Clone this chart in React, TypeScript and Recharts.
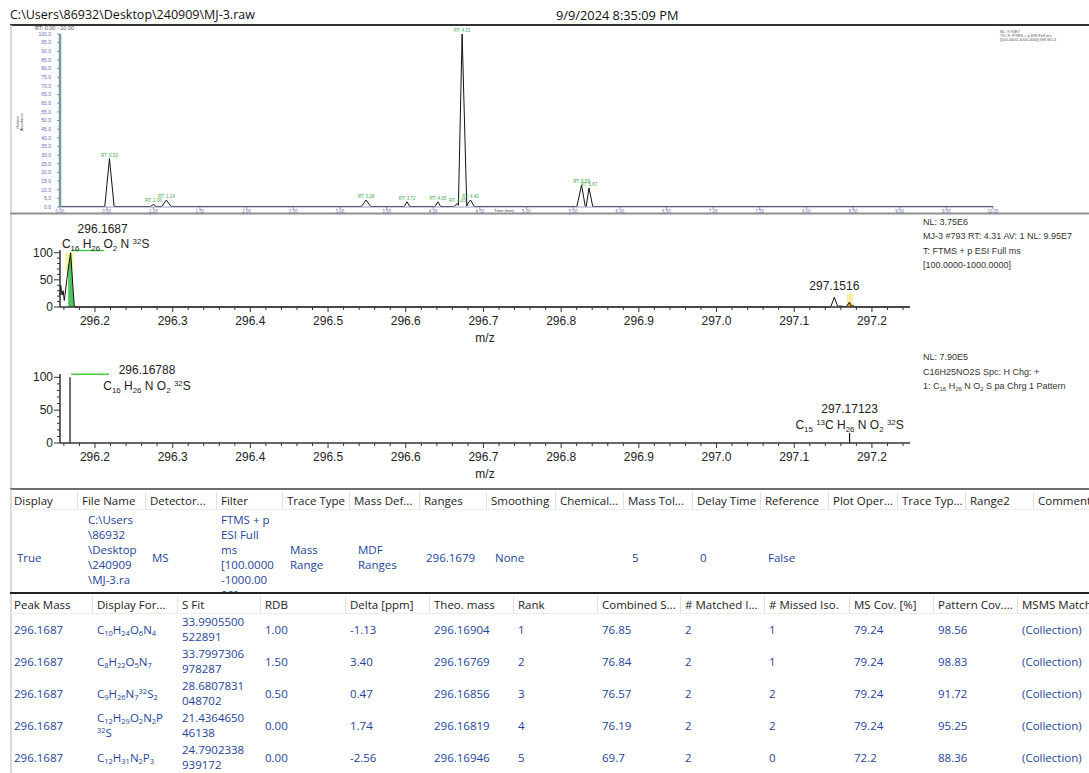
import React from "react";
import {
  Area,
  ComposedChart,
  Line,
  LineChart,
  ReferenceArea,
  Scatter,
  XAxis,
  YAxis,
} from "recharts";

const ARIAL = "'Liberation Sans', Arial, sans-serif";
const UI = "'Open Sans', 'Noto Sans', sans-serif";
const BLUE = "#24449a";
const INK = "#222";

// ---------- TIC chromatogram (top strip) ----------
const TIC_TIME = [0, 0.48, 0.53, 0.58, 0.97, 1.0, 1.03, 1.09, 1.14, 1.19, 3.23, 3.28, 3.33, 3.69, 3.72, 3.75, 4.02, 4.05, 4.08, 4.22, 4.26, 4.27, 4.31, 4.36, 4.37, 4.4, 4.44, 5.54, 5.59, 5.63, 5.64, 5.67, 5.71, 10];
const TIC_REL = [0.3, 0.3, 28, 0.3, 0.3, 1.5, 0.3, 0.3, 4, 0.3, 0.3, 4, 0.3, 0.3, 3, 0.3, 0.3, 3, 0.3, 0.3, 2, 1, 100, 0.5, 2, 4, 0.3, 0.3, 12.7, 0.3, 0.3, 11, 0.3, 0.3];
const TIC_PEAK_RT = [0.53, 1.0, 1.14, 3.28, 3.72, 4.05, 4.26, 4.31, 4.4, 5.59, 5.67];
const TIC_PEAK_REL = [28, 1.5, 4, 4, 3, 3, 2, 100, 4, 12.7, 11];
const TIC_X_TICKS = [0, 0.5, 1, 1.5, 2, 2.5, 3, 3.5, 4, 4.5, 5, 5.5, 6, 6.5, 7, 7.5, 8, 8.5, 9, 9.5, 10];
const TIC_Y_TICKS = [0, 5, 10, 15, 20, 25, 30, 35, 40, 45, 50, 55, 60, 65, 70, 75, 80, 85, 90, 95, 100];
const TIC_INFO = ["NL: 9.95E7", "TIC F: FTMS + p ESI Full ms", "[100.0000-1000.0000]  MS  MJ-3", "MJ-3"];

// ---------- measured spectrum (panel 1) ----------
const P1_MZ = [296.155, 296.156, 296.1575, 296.159, 296.1605, 296.1655, 296.1687, 296.172, 296.1735, 297.147, 297.1516, 297.156, 297.159, 297.163, 297.167, 297.1712, 297.174, 297.176, 297.178, 297.249];
const P1_REL = [22, 40, 22, 30, 12, 70, 100, 30, 0, 0, 18, 1, 2, 1, 0.5, 9, 1, 3, 0, 0];
const P1_INFO = ["NL: 3.75E6", "MJ-3 #793 RT: 4.31 AV: 1 NL: 9.95E7", "T: FTMS + p ESI Full ms", "[100.0000-1000.0000]"];

// ---------- simulated pattern (panel 2) ----------
const P2_MZ = [296.16788, 297.17123];
const P2_REL = [100, 15.2];
const P2_LABEL = ["296.16788", "297.17123"];
const P2_FORMULA = ["C_{16} H_{26} N O_{2} ^{32}S", "C_{15} ^{13}C H_{26} N O_{2} ^{32}S"];
const P2_INFO = ["NL: 7.90E5", "C16H25NO2S Spc: H Chg: +", "1: C_{16} H_{26} N O_{2} S  pa Chrg 1 Pattern"];

const MZ_MAJOR = [296.2, 296.3, 296.4, 296.5, 296.6, 296.7, 296.8, 296.9, 297.0, 297.1, 297.2];
const MZ_DOMAIN = [296.155, 297.249];
const REL_TICKS = [0, 10, 20, 30, 40, 50, 60, 70, 80, 90, 100];

// ---------- tables ----------
const T1_HEAD = ["Display", "File Name", "Detector...", "Filter", "Trace Type", "Mass Def...", "Ranges", "Smoothing", "Chemical...", "Mass Tol...", "Delay Time", "Reference", "Plot Oper...", "Trace Typ...", "Range2", "Comment"];
const T1_COLS = [10, 78, 146, 217, 283, 350, 420, 487, 556, 624, 693, 761, 829, 898, 966, 1034];
const T1_ROW = ["True", "C:\\Users\n\\86932\n\\Desktop\n\\240909\n\\MJ-3.ra\n ", "MS", "FTMS + p\nESI Full\nms\n[100.0000\n-1000.00\n00]", "Mass\nRange", "MDF\nRanges", "296.1679", "None", "", "5", "0", "False", "", "", "", ""];
const T1_PAD = [7, 10, 6, 4, 7, 8, 6, 8, 7, 8, 7, 7, 7, 7, 7, 7];

const T2_HEAD = ["Peak Mass", "Display For...", "S Fit", "RDB", "Delta [ppm]", "Theo. mass", "Rank", "Combined S...", "# Matched I...", "# Missed Iso.", "MS Cov. [%]", "Pattern Cov....", "MSMS Match"];
const T2_COLS = [10, 93, 178, 261, 346, 430, 514, 598, 681, 765, 850, 934, 1018];
const PEAK_MASS = ["296.1687", "296.1687", "296.1687", "296.1687", "296.1687"];
const CAND_FORMULA = ["C_{10}H_{24}O_{6}N_{4}", "C_{8}H_{22}O_{5}N_{7}", "C_{9}H_{26}N_{7}^{32}S_{2}", "C_{12}H_{29}O_{2}N_{2}P\n^{32}S", "C_{12}H_{31}N_{2}P_{3}"];
const S_FIT = ["33.9905500\n522891", "33.7997306\n978287", "28.6807831\n048702", "21.4364650\n46138", "24.7902338\n939172"];
const RDB = ["1.00", "1.50", "0.50", "0.00", "0.00"];
const DELTA_PPM = ["-1.13", "3.40", "0.47", "1.74", "-2.56"];
const THEO_MASS = ["296.16904", "296.16769", "296.16856", "296.16819", "296.16946"];
const RANK = ["1", "2", "3", "4", "5"];
const COMBINED = ["76.85", "76.84", "76.57", "76.19", "69.7"];
const MATCHED = ["2", "2", "2", "2", "2"];
const MISSED = ["1", "1", "2", "2", "0"];
const MS_COV = ["79.24", "79.24", "79.24", "79.24", "72.2"];
const PATTERN_COV = ["98.56", "98.83", "91.72", "95.25", "88.36"];
const MSMS = ["(Collection)", "(Collection)", "(Collection)", "(Collection)", "(Collection)"];

// ---------- helpers ----------
type Tok = { t: string; k?: "sub" | "sup" | "br" };

function parseFormula(s: string): Tok[] {
  const out: Tok[] = [];
  const re = /(_\{[^}]*\}|\^\{[^}]*\}|\n|[^_^\n]+)/g;
  let m: RegExpExecArray | null;
  while ((m = re.exec(s))) {
    const v = m[0];
    if (v === "\n") out.push({ t: "", k: "br" });
    else if (v.startsWith("_{")) out.push({ t: v.slice(2, -1), k: "sub" });
    else if (v.startsWith("^{")) out.push({ t: v.slice(2, -1), k: "sup" });
    else out.push({ t: v });
  }
  return out;
}

function SvgFormula({ x, y, formula, size, anchor = "middle", fill = INK }: any) {
  const toks = parseFormula(formula);
  let shift = 0;
  return (
    <text x={x} y={y} textAnchor={anchor} fontSize={size} fill={fill} fontFamily={ARIAL}>
      {toks.map((tk, i) => {
        const target = tk.k === "sub" ? size * 0.25 : tk.k === "sup" ? -size * 0.35 : 0;
        const dy = target - shift;
        shift = target;
        return (
          <tspan key={i} dy={dy} fontSize={tk.k ? size * 0.66 : size}>
            {tk.t}
          </tspan>
        );
      })}
    </text>
  );
}

function HtmlFormula({ formula }: { formula: string }) {
  return (
    <>
      {parseFormula(formula).map((tk, i) => {
        if (tk.k === "br") return <br key={i} />;
        if (tk.k === "sub")
          return (
            <span key={i} style={{ fontSize: 7.5, verticalAlign: -2, lineHeight: 0 }}>
              {tk.t}
            </span>
          );
        if (tk.k === "sup")
          return (
            <span key={i} style={{ fontSize: 7.5, verticalAlign: 4, lineHeight: 0 }}>
              {tk.t}
            </span>
          );
        return <span key={i}>{tk.t}</span>;
      })}
    </>
  );
}

const isMajor = (v: number) => MZ_MAJOR.some((m) => Math.abs(m - v) < 1e-6);
const MZ_TICKS: number[] = [];
for (let i = 0; i <= 54; i++) MZ_TICKS.push(Math.round((296.16 + i * 0.02) * 1000) / 1000);

function MzTick({ x, y, payload }: any) {
  const major = isMajor(payload.value);
  return (
    <g>
      <line x1={x} x2={x} y1={y} y2={y + (major ? 5 : 3)} stroke="#333" />
      {major && (
        <text x={x} y={y + 18} textAnchor="middle" fontSize={12} fill={INK} fontFamily={ARIAL}>
          {payload.value.toFixed(1)}
        </text>
      )}
    </g>
  );
}

function RelTick({ x, y, payload }: any) {
  const major = payload.value % 50 === 0;
  return (
    <g>
      <line x1={x - (major ? 6 : 3)} x2={x} y1={y} y2={y} stroke="#333" />
      {major && (
        <text x={x - 7} y={y + 4} textAnchor="end" fontSize={12} fill={INK} fontFamily={ARIAL}>
          {payload.value}
        </text>
      )}
    </g>
  );
}

function TicXTick({ x, y, payload }: any) {
  return (
    <g>
      <line x1={x} x2={x} y1={y} y2={y + 2} stroke="#8a8fb0" />
      <text x={x} y={y + 5.5} textAnchor="middle" fontSize={4.5} fill="#5f6fb0" fontFamily={ARIAL}>
        {payload.value.toFixed(2)}
      </text>
    </g>
  );
}

function TicYTick({ x, y, payload }: any) {
  return (
    <g>
      <line x1={x - 3} x2={x} y1={y} y2={y} stroke="#8a8fb0" />
      <text x={x - 9} y={y + 1.8} textAnchor="end" fontSize={5} fill="#5f6fb0" fontFamily={ARIAL}>
        {payload.value.toFixed(1)}
      </text>
    </g>
  );
}

const ticData = TIC_TIME.map((t, i) => ({ t, v: TIC_REL[i] }));
const ticPeaks = TIC_PEAK_RT.map((t, i) => ({ t, v: TIC_PEAK_REL[i] }));

const p1Data = P1_MZ.map((m, i) => ({ m, v: P1_REL[i] }));
const p1Green = p1Data.filter((d) => d.m >= 296.1655 && d.m <= 296.1735);
const p1Orange = p1Data.filter((d) => d.m >= 297.167 && d.m <= 297.174);
const p1Labels = [
  { m: 296.1687, v: 100, text: "296.1687", formula: "C_{16} H_{26} O_{2} N ^{32}S", main: true },
  { m: 297.1516, v: 18, text: "297.1516", formula: "", main: false },
];
const matchBar1 = [
  { m: 296.17, v: 104 },
  { m: 296.212, v: 104 },
];

const p2Sticks: { m: number; v: number | null }[] = [];
P2_MZ.forEach((m, i) => {
  p2Sticks.push({ m, v: 0 }, { m, v: P2_REL[i] }, { m, v: null });
});
const p2Labels = P2_MZ.map((m, i) => ({ m, v: P2_REL[i], text: P2_LABEL[i], formula: P2_FORMULA[i] }));
const matchBar2 = [
  { m: 296.1695, v: 104.5 },
  { m: 296.218, v: 104.5 },
];

function P1LabelShape(props: any) {
  const { cx, cy, payload } = props;
  if (payload.main) {
    return (
      <g>
        <text x={cx + 32} y={cy - 20} textAnchor="middle" fontSize={12} fill={INK} fontFamily={ARIAL}>
          {payload.text}
        </text>
        <SvgFormula x={cx + 35} y={cy - 5} formula={payload.formula} size={12} />
      </g>
    );
  }
  return (
    <text x={cx} y={cy - 7} textAnchor="middle" fontSize={12} fill={INK} fontFamily={ARIAL}>
      {payload.text}
    </text>
  );
}

function P2LabelShape(props: any) {
  const { cx, cy, payload } = props;
  const first = payload.v > 50;
  const lx = first ? cx + 77 : cx;
  const ly = first ? cy - 3 : cy - 20;
  return (
    <g>
      <text x={lx} y={ly} textAnchor="middle" fontSize={12} fill={INK} fontFamily={ARIAL}>
        {payload.text}
      </text>
      <SvgFormula x={lx} y={ly + 16} formula={payload.formula} size={12} />
    </g>
  );
}

function TicLabelShape(props: any) {
  const { cx, cy, payload } = props;
  return (
    <text x={cx} y={cy - 2} textAnchor="middle" fontSize={4.5} fill="#3aa84a" fontFamily={ARIAL}>
      {"RT: " + payload.t.toFixed(2)}
    </text>
  );
}

function TicChart() {
  return (
    <LineChart width={1000} height={190} data={ticData} margin={{ top: 9, right: 7, bottom: 0, left: 15 }}>
      <XAxis
        dataKey="t"
        type="number"
        domain={[0, 10]}
        ticks={TIC_X_TICKS}
        interval={0}
        height={8}
        tickSize={0}
        tickMargin={0}
        tick={<TicXTick />}
        axisLine={{ stroke: "#9aa0c0" }}
      />
      <YAxis
        type="number"
        domain={[0, 100]}
        ticks={TIC_Y_TICKS}
        interval={0}
        width={45}
        tickSize={0}
        tickMargin={0}
        tick={<TicYTick />}
        axisLine={{ stroke: "#6f9c9c", strokeWidth: 2.5 }}
      />
      <Line dataKey="v" type="linear" stroke="#111" strokeWidth={1} dot={false} isAnimationActive={false} />
      <Scatter data={ticPeaks} dataKey="v" shape={<TicLabelShape />} isAnimationActive={false} />
    </LineChart>
  );
}

function Panel1() {
  return (
    <ComposedChart width={940} height={135} margin={{ top: 35, right: 30, bottom: 8, left: 20 }}>
      <ReferenceArea x1={296.162} x2={296.1725} y1={68} y2={100} fill="#f4f07a" fillOpacity={0.7} stroke="none" />
      <ReferenceArea x1={297.168} x2={297.1755} y1={0} y2={24} fill="#f7e27a" fillOpacity={0.7} stroke="none" />
      <XAxis
        dataKey="m"
        type="number"
        domain={MZ_DOMAIN}
        ticks={MZ_TICKS}
        interval={0}
        height={35}
        tickSize={0}
        tickMargin={0}
        tick={<MzTick />}
        axisLine={{ stroke: "#333", strokeWidth: 1.5 }}
        label={{ value: "m/z", position: "insideBottom", offset: 0, fontSize: 12, fill: INK, fontFamily: ARIAL }}
      />
      <YAxis
        type="number"
        domain={[0, 105]}
        ticks={REL_TICKS}
        interval={0}
        width={40}
        tickSize={0}
        tickMargin={0}
        tick={<RelTick />}
        axisLine={{ stroke: "#333", strokeWidth: 1.5 }}
      />
      <Area data={p1Green} dataKey="v" type="linear" fill="#3cc04a" fillOpacity={0.9} stroke="none" dot={false} isAnimationActive={false} />
      <Area data={p1Orange} dataKey="v" type="linear" fill="#f0a030" fillOpacity={0.95} stroke="none" dot={false} isAnimationActive={false} />
      <Line data={p1Data} dataKey="v" type="linear" stroke="#111" strokeWidth={1} dot={false} isAnimationActive={false} />
      <Line data={matchBar1} dataKey="v" type="linear" stroke="#3fcf3f" strokeWidth={1.5} dot={false} isAnimationActive={false} />
      <Scatter data={p1Labels} dataKey="v" shape={<P1LabelShape />} isAnimationActive={false} />
    </ComposedChart>
  );
}

function Panel2() {
  return (
    <ComposedChart width={940} height={150} margin={{ top: 34, right: 30, bottom: 12, left: 20 }}>
      <XAxis
        dataKey="m"
        type="number"
        domain={MZ_DOMAIN}
        ticks={MZ_TICKS}
        interval={0}
        height={35}
        tickSize={0}
        tickMargin={0}
        tick={<MzTick />}
        axisLine={{ stroke: "#333", strokeWidth: 1.5 }}
        label={{ value: "m/z", position: "insideBottom", offset: 0, fontSize: 12, fill: INK, fontFamily: ARIAL }}
      />
      <YAxis
        type="number"
        domain={[0, 105]}
        ticks={REL_TICKS}
        interval={0}
        width={40}
        tickSize={0}
        tickMargin={0}
        tick={<RelTick />}
        axisLine={{ stroke: "#333", strokeWidth: 1.5 }}
      />
      <Line data={p2Sticks} dataKey="v" type="linear" stroke="#111" strokeWidth={1.2} dot={false} connectNulls={false} isAnimationActive={false} />
      <Line data={matchBar2} dataKey="v" type="linear" stroke="#3fcf3f" strokeWidth={1.5} dot={false} isAnimationActive={false} />
      <Scatter data={p2Labels} dataKey="v" shape={<P2LabelShape />} isAnimationActive={false} />
    </ComposedChart>
  );
}

function Cell({ left, top, width, height, pad, children, color, center = true }: any) {
  return (
    <div
      style={{
        position: "absolute",
        left: left + pad,
        top,
        width: width - pad,
        height,
        display: "flex",
        flexDirection: "column",
        justifyContent: center ? "center" : "flex-start",
        color,
        fontSize: 11.5,
        lineHeight: "15px",
        whiteSpace: "nowrap",
        overflow: "hidden",
      }}
    >
      <div>{children}</div>
    </div>
  );
}

function HeaderRow({ cols, heads, top }: { cols: number[]; heads: string[]; top: number }) {
  return (
    <>
      {heads.map((h, i) => {
        const w = Math.min((cols[i + 1] ?? 1089) - cols[i], 1089 - cols[i]);
        return (
          <div key={h + i}>
            <Cell left={cols[i]} top={top} width={w} height={18} pad={4} color={INK}>
              {h}
            </Cell>
            {i > 0 && (
              <div style={{ position: "absolute", left: cols[i] - 1, top: top + 1, width: 1, height: 17, background: "#e2e2e2" }} />
            )}
          </div>
        );
      })}
      <div style={{ position: "absolute", left: 10, top: top + 18, width: 1079, height: 1, background: "#ececec" }} />
    </>
  );
}

export default function App() {
  const t2Cols = [PEAK_MASS, CAND_FORMULA, S_FIT, RDB, DELTA_PPM, THEO_MASS, RANK, COMBINED, MATCHED, MISSED, MS_COV, PATTERN_COV, MSMS];
  return (
    <div
      style={{
        position: "absolute",
        left: 0,
        top: 0,
        width: 1089,
        height: 773,
        overflow: "hidden",
        background: "#fff",
        fontFamily: UI,
      }}
    >
      {/* title bar */}
      <div style={{ position: "absolute", left: 10, top: 6, fontSize: 12.5, color: "#111", lineHeight: "18px" }}>
        {"C:\\Users\\86932\\Desktop\\240909\\MJ-3.raw"}
      </div>
      <div style={{ position: "absolute", left: 556, top: 6, fontSize: 12.8, color: "#111", lineHeight: "18px" }}>
        9/9/2024 8:35:09 PM
      </div>

      {/* chromatogram */}
      <div style={{ position: "absolute", left: 0, top: 25 }}>
        <TicChart />
      </div>

      {/* spectrum panels */}
      <div style={{ position: "absolute", left: 0, top: 215 }}>
        <Panel1 />
      </div>
      <div style={{ position: "absolute", left: 0, top: 340 }}>
        <Panel2 />
      </div>

      {/* frame lines, small texts */}
      <svg width={1089} height={773} style={{ position: "absolute", left: 0, top: 0, pointerEvents: "none" }}>
        <line x1={10} x2={1089} y1={25} y2={25} stroke="#333" strokeWidth={2} />
        <line x1={11} x2={11} y1={25} y2={489} stroke="#cfcfcf" strokeWidth={1.5} />
        <line x1={10} x2={1089} y1={213.5} y2={213.5} stroke="#8f8f8f" strokeWidth={2} />
        <line x1={10} x2={1089} y1={489} y2={489} stroke="#6f6f6f" strokeWidth={2} />
        <line x1={11} x2={11} y1={489} y2={773} stroke="#cfcfcf" strokeWidth={1.5} />
        <line x1={10} x2={1089} y1={593} y2={593} stroke="#222" strokeWidth={2} />

        <text x={35} y={29.5} fontSize={5.5} fill="#555" fontFamily={ARIAL}>
          RT: 0.00 - 10.00
        </text>
        <text transform="translate(19,122) rotate(-90)" fontSize={3.6} fill="#444" fontFamily={ARIAL} textAnchor="middle">
          <tspan x={0} dy={0}>Relative</tspan>
          <tspan x={0} dy={4}>Abundance</tspan>
        </text>
        <text x={504} y={212} fontSize={4.2} fill="#444" fontFamily={ARIAL} textAnchor="middle">
          Time (min)
        </text>
        {TIC_INFO.slice(0, 3).map((s, i) => (
          <text key={s} x={1000} y={33 + i * 3.8} fontSize={4} fill="#555" fontFamily={ARIAL}>
            {s}
          </text>
        ))}

        {P1_INFO.map((s, i) => (
          <text key={s} x={923} y={225 + i * 14.4} fontSize={9} fill="#333" fontFamily={ARIAL}>
            {s}
          </text>
        ))}
        {P2_INFO.map((s, i) =>
          i < 2 ? (
            <text key={s} x={923} y={360 + i * 14.5} fontSize={9} fill="#333" fontFamily={ARIAL}>
              {s}
            </text>
          ) : (
            <SvgFormula key={s} x={923} y={389} formula={s} size={9} anchor="start" fill="#333" />
          )
        )}
      </svg>

      {/* first grid: trace settings */}
      <HeaderRow cols={T1_COLS} heads={T1_HEAD} top={491} />
      <div style={{ position: "absolute", left: 0, top: 510, width: 1089, height: 82, overflow: "hidden" }}>
        {T1_ROW.map((v, i) => {
          const w = (T1_COLS[i + 1] ?? 1089) - T1_COLS[i];
          return (
            <Cell key={i} left={T1_COLS[i]} top={0} width={w} height={94} pad={T1_PAD[i]} color={BLUE}>
              {v.split("\n").map((line, j) => (
                <div key={j}>{line === " " ? "\u00a0" : line}</div>
              ))}
            </Cell>
          );
        })}
      </div>

      {/* second grid: formula candidates */}
      <HeaderRow cols={T2_COLS} heads={T2_HEAD} top={595} />
      {PEAK_MASS.map((_, r) =>
        t2Cols.map((col, c) => {
          const w = Math.min((T2_COLS[c + 1] ?? 1089) - T2_COLS[c], 1089 - T2_COLS[c]);
          const v = col[r];
          return (
            <Cell key={r + "-" + c} left={T2_COLS[c]} top={613 + r * 32} width={w} height={32} pad={4} color={BLUE}>
              {c === 1 ? (
                <HtmlFormula formula={v} />
              ) : (
                v.split("\n").map((line, j) => <div key={j}>{line}</div>)
              )}
            </Cell>
          );
        })
      )}
    </div>
  );
}
